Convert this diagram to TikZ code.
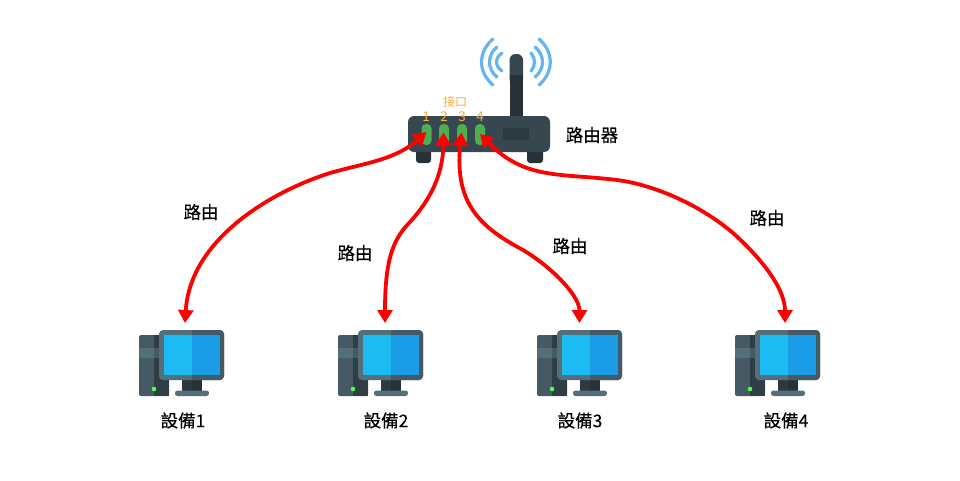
\documentclass[tikz,border=0pt]{standalone}
\usepackage{fontspec}
\setmainfont{Noto Sans CJK TC}
\newfontfamily\lblfont[FakeBold=0.3]{Noto Sans CJK TC}
\usetikzlibrary{arrows.meta}
\definecolor{bodyc}{HTML}{37474F}
\definecolor{darkc}{HTML}{263238}
\definecolor{midc}{HTML}{455A64}
\definecolor{lightc}{HTML}{546E7A}
\definecolor{scra}{HTML}{1CBCF2}
\definecolor{scrb}{HTML}{1A9CE6}
\definecolor{wific}{HTML}{64B5F6}
\definecolor{portc}{HTML}{4CAF50}
\definecolor{labc}{HTML}{F7AE3C}
\tikzset{
  lbl/.style={inner sep=0pt,font=\lblfont\fontsize{17.5}{17.5}\selectfont,text=black},
  plbl/.style={inner sep=0pt,font=\fontsize{12}{12}\selectfont,text=labc},
  dlbl/.style={inner sep=0pt,font=\fontsize{13.5}{13.5}\selectfont,text=labc},
  portn/.style={draw=none,fill=portc,rounded corners=4.5pt,minimum width=10pt,minimum height=21pt,inner sep=0pt},
  link/.style={draw=red,line width=3.8pt,{Triangle[length=13pt,width=15pt]}-{Triangle[length=13pt,width=15pt]}},
  wave/.style={draw=wific,line width=3.2pt,line cap=round}
}
\newcommand{\computer}[1]{%
 \begin{scope}[shift={(#1-139,0)}]
  \fill[midc,rounded corners=2pt] (139,335) rectangle (169,396);
  \fill[darkc!70!midc] (154,335) rectangle (169,396);
  \fill[lightc] (139,348) rectangle (154,358);
  \fill[midc] (154,348) rectangle (169,358);
  \fill[green!70!white] (154,389) circle (2.3);
  \fill[darkc!80!midc] (182,378) rectangle (192,391);
  \fill[darkc] (192,378) rectangle (202,391);
  \fill[lightc,rounded corners=2.5pt] (175,396) rectangle (209,390.5);
  \fill[lightc,rounded corners=4pt] (159,330) rectangle (224,380);
  \fill[midc,rounded corners=4pt] (192,330) rectangle (224,380);
  \fill[midc] (192,330) rectangle (200,380);
  \fill[scra] (164,335) rectangle (192,375);
  \fill[scrb] (192,335) rectangle (220,375);
 \end{scope}
}
\begin{document}
\begin{tikzpicture}[x=1pt,y=-1pt]
\useasboundingbox (0,0) rectangle (960,480);
\fill[white] (0,0) rectangle (960,480);
% wifi
\draw[wave] (531,53) .. controls (535.7,58) and (535.7,66) .. (531,71);
\draw[wave] (502,53) .. controls (494.7,58) and (494.7,66) .. (502,71);
\draw[wave] (535,47) .. controls (545,55) and (545,69) .. (535,77);
\draw[wave] (497,47) .. controls (487,55) and (487,69) .. (497,77);
\draw[wave] (539,39) .. controls (554,52) and (554,72) .. (539,85);
\draw[wave] (493,39) .. controls (477.7,52) and (477.7,72) .. (493,85);
% antenna
\fill[bodyc,rounded corners=6pt] (509.5,54) rectangle (523,85);
\fill[darkc] (509.5,75) rectangle (523,117);
% feet
\fill[darkc,rounded corners=3pt] (416,148) rectangle (431,163);
\fill[darkc,rounded corners=3pt] (527,148) rectangle (543,163);
% body
\fill[bodyc,rounded corners=6pt] (408,116) rectangle (550,152);
\fill[darkc!60!bodyc] (503,128) rectangle (529,140);
% ports
\node[portn] (p1) at (426.5,134.5) {};
\node[portn] (p2) at (444,134.5) {};
\node[portn] (p3) at (462,134.5) {};
\node[portn] (p4) at (480,134.5) {};
\node[dlbl] (n1) at (426,117) {1};
\node[dlbl] (n2) at (444,117) {2};
\node[dlbl] (n3) at (462,117) {3};
\node[dlbl] (n4) at (480,117) {4};
\node[plbl] (ports) at (455,102) {接口};
\node[lbl] (router) at (592,135) {路由器};
\computer{139}
\computer{338}
\computer{537}
\computer{735}
\node[lbl] (t1) at (183,420.5) {設備1};
\node[lbl] (t2) at (386,420.5) {設備2};
\node[lbl] (t3) at (580,420.5) {設備3};
\node[lbl] (t4) at (786,420.5) {設備4};
\node[lbl] (r1) at (201,212) {路由};
\node[lbl] (r2) at (355,253) {路由};
\node[lbl] (r3) at (570,246) {路由};
\node[lbl] (r4) at (767,218) {路由};
\coordinate (c1) at (426.5,132);
\coordinate (c2) at (443.5,132.5);
\coordinate (c3) at (461.5,132.5);
\coordinate (c4) at (480,134);
\coordinate (d1) at (185,323);
\coordinate (d2) at (385,323);
\coordinate (d3) at (579.5,323);
\coordinate (d4) at (785,323);
\draw[link] (c1) .. controls (395,160) and (365,163) .. (330,173) .. controls (270,192) and (190,240) .. (d1);
\draw[link] (c2) .. controls (443,175) and (430,200) .. (410,222) .. controls (392,240) and (385,262) .. (d2);
\draw[link] (c3) .. controls (454,205) and (482,228) .. (523,250) .. controls (550,266) and (579.5,295) .. (d3);
\draw[link] (c4) .. controls (525,180) and (560,173) .. (617,180) .. controls (655,185) and (700,205) .. (733,233) .. controls (765,262) and (785,290) .. (d4);
\end{tikzpicture}
\end{document}
